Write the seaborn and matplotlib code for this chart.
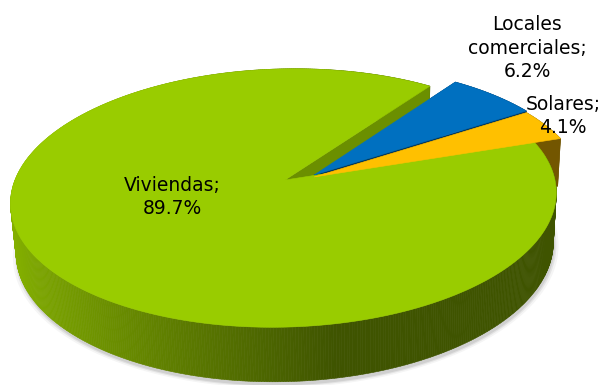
import numpy as np
import matplotlib
matplotlib.use("Agg")
import matplotlib.pyplot as plt
from matplotlib.patches import Polygon
from matplotlib.colors import to_rgb
import seaborn as sns

# Data
categories = ["Viviendas", "Locales\ncomerciales", "Solares"]
shares = [89.7, 6.2, 4.1]
pct_labels = ["89.7%", "6.2%", "4.1%"]

# Style
colors = ["#99CC00", "#0070C0", "#FFC000"]
cut_shade = [0.70, 0.50, 0.45]           # brightness of the radial cut faces
explode = [(0.0, 0.0), (0.107, 0.040), (0.107, 0.024)]   # slice offsets in pie units
label_pos = [(172, 197), (527, 48), (563, 116)]

sns.set_style("white")
plt.rcParams["font.family"] = ["DejaVu Sans"]

W, H = 602, 385
fig = plt.figure(figsize=(W / 100, H / 100), dpi=100)
ax = fig.add_axes([0, 0, 1, 1])
ax.set_xlim(0, W)
ax.set_ylim(H, 0)
ax.axis("off")

# Camera for the tilted 3-D pie (eye slightly right of the pie centre)
elev = np.radians(28)
dist = 6.34
eye_x = 0.3
thick = 0.21
scale = 270
cx, cy = 285, 180


def project(x, y, z):
    v = y * np.sin(elev) + z * np.cos(elev)
    w = y * np.cos(elev) - z * np.sin(elev)
    k = dist / (dist + w)
    return cx + scale * (eye_x + (x - eye_x) * k), cy - scale * v * k, w


def side_shade(theta):
    f = 0.88 - 0.46 * (np.cos(theta) + 1) / 1.178
    return float(np.clip(f, 0.41, 0.88))


def shaded(color, f):
    r, g, b = to_rgb(color)
    return (r * f, g * f, b * f)


# Angular extents (counter-clockwise, degrees); Solares begins at 18.6 deg
spans = [360 * s / sum(shares) for s in shares]
start = 18.6
ranges = {}
a = start
for i in [2, 1, 0]:
    ranges[i] = (a, a + spans[i])
    a += spans[i]

faces = []   # (depth, polygon, facecolor)
tops = []

for i in range(3):
    a0, a1 = np.radians(ranges[i][0]), np.radians(ranges[i][1])
    ox, oy = explode[i]
    n = max(int(np.degrees(a1 - a0)), 2) * 2
    th = np.linspace(a0, a1, n + 1)

    # outer rim, split into thin quads for the gradient
    for t0, t1 in zip(th[:-1], th[1:]):
        pts = []
        ws = []
        for t, z in [(t0, 0), (t1, 0), (t1, -thick), (t0, -thick)]:
            X, Y, w = project(ox + np.cos(t), oy + np.sin(t), z)
            pts.append((X, Y))
            ws.append(w)
        faces.append((np.mean(ws), pts, shaded(colors[i], side_shade(0.5 * (t0 + t1)))))

    # radial cut faces
    for t in (a0, a1):
        pts = []
        ws = []
        for (x, y, z) in [(ox, oy, 0), (ox + np.cos(t), oy + np.sin(t), 0),
                          (ox + np.cos(t), oy + np.sin(t), -thick), (ox, oy, -thick)]:
            X, Y, w = project(x, y, z)
            pts.append((X, Y))
            ws.append(w)
        faces.append((np.mean(ws), pts, shaded(colors[i], cut_shade[i])))

    # top face
    pts = [project(ox, oy, 0)[:2]] + [project(ox + np.cos(t), oy + np.sin(t), 0)[:2] for t in th]
    tops.append((pts, colors[i]))

# soft drop shadow under the main body
ring = np.linspace(0, 2 * np.pi, 361)
for grow, alpha in [(1.016, 0.08), (1.008, 0.14), (1.002, 0.2)]:
    pts = [project(grow * np.cos(t), grow * np.sin(t), -thick - 0.008)[:2] for t in ring]
    pts = [(x + 1.0, y + 1.2) for x, y in pts]
    ax.add_patch(Polygon(pts, closed=True, facecolor="#808080", edgecolor="none", alpha=alpha))

for depth, pts, col in sorted(faces, key=lambda f: -f[0]):
    ax.add_patch(Polygon(pts, closed=True, facecolor=col, edgecolor=col, linewidth=0.4))

for pts, col in tops:
    ax.add_patch(Polygon(pts, closed=True, facecolor=col, edgecolor=col, linewidth=0.4))

# Category labels
for i in range(3):
    x, y = label_pos[i]
    ax.text(x, y, f"{categories[i]};\n{pct_labels[i]}", ha="center", va="center",
            multialignment="center", fontsize=13.5, linespacing=1.33, color="black")

fig.savefig("out.png", dpi=100)
